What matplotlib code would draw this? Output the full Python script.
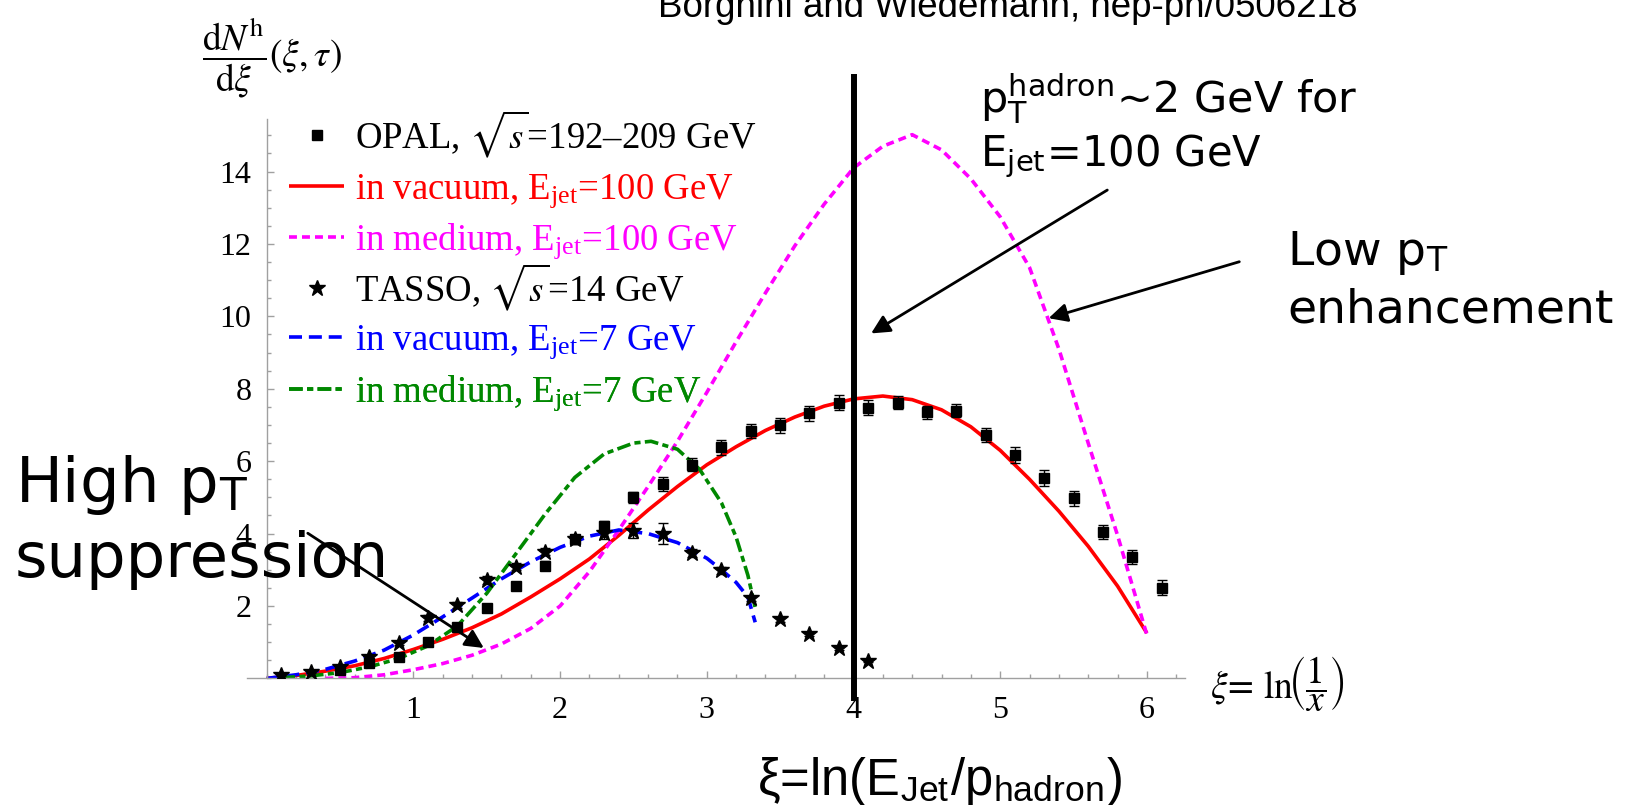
import matplotlib
matplotlib.use('Agg')
import matplotlib.pyplot as plt
from matplotlib.ticker import MultipleLocator

plt.rcParams['mathtext.fontset'] = 'stix'

W, H = 1629, 805

# OPAL, sqrt(s)=192-209 GeV
opal_xi = [0.5, 0.7, 0.9, 1.1, 1.3, 1.5, 1.7, 1.9, 2.1, 2.3, 2.5, 2.7, 2.9, 3.1, 3.3,
           3.5, 3.7, 3.9, 4.1, 4.3, 4.5, 4.7, 4.9, 5.1, 5.3, 5.5, 5.7, 5.9, 6.1]
opal_val = [0.23, 0.42, 0.60, 1.01, 1.41, 1.94, 2.56, 3.11, 3.84, 4.21, 5.00, 5.37, 5.90, 6.38, 6.83,
            6.99, 7.32, 7.62, 7.48, 7.62, 7.35, 7.39, 6.72, 6.16, 5.53, 4.97, 4.04, 3.35, 2.51]
opal_err = [0.05, 0.05, 0.06, 0.08, 0.10, 0.10, 0.10, 0.12, 0.12, 0.15, 0.15, 0.18, 0.18, 0.20, 0.20,
            0.20, 0.20, 0.20, 0.20, 0.18, 0.18, 0.18, 0.20, 0.22, 0.22, 0.22, 0.20, 0.20, 0.20]

# TASSO, sqrt(s)=14 GeV
tasso_xi = [0.1, 0.3, 0.5, 0.7, 0.9, 1.1, 1.3, 1.5, 1.7, 1.9, 2.1, 2.3, 2.5, 2.7, 2.9,
            3.1, 3.3, 3.5, 3.7, 3.9, 4.1]
tasso_val = [0.09, 0.19, 0.32, 0.60, 0.97, 1.66, 2.03, 2.72, 3.09, 3.50, 3.84, 4.01, 4.08, 4.00, 3.46,
             2.99, 2.21, 1.63, 1.22, 0.83, 0.49]
tasso_err = [0.03, 0.03, 0.04, 0.05, 0.06, 0.08, 0.08, 0.10, 0.10, 0.10, 0.12, 0.15, 0.20, 0.30, 0.12,
             0.10, 0.08, 0.06, 0.05, 0.04, 0.03]

# in vacuum, E_jet = 100 GeV
vac100_xi = [0.0, 0.2, 0.4, 0.6, 0.8, 1.0, 1.2, 1.4, 1.6, 1.8, 2.0, 2.2, 2.4, 2.6, 2.8, 3.0,
             3.2, 3.4, 3.6, 3.8, 4.0, 4.2, 4.4, 4.6, 4.8, 5.0, 5.2, 5.4, 5.6, 5.8, 6.0]
vac100_val = [0.0, 0.08, 0.20, 0.35, 0.55, 0.80, 1.08, 1.40, 1.78, 2.25, 2.75, 3.30, 3.95, 4.65, 5.30, 5.90,
              6.40, 6.85, 7.22, 7.52, 7.72, 7.80, 7.70, 7.42, 6.95, 6.30, 5.50, 4.62, 3.65, 2.55, 1.25]

# in medium, E_jet = 100 GeV
med100_xi = [0.4, 0.6, 0.8, 1.0, 1.2, 1.4, 1.6, 1.8, 2.0, 2.2, 2.4, 2.6, 2.8, 3.0, 3.2,
             3.4, 3.6, 3.8, 4.0, 4.2, 4.4, 4.6, 4.8, 5.0, 5.2, 5.4, 5.6, 5.8, 6.0]
med100_val = [0.0, 0.02, 0.10, 0.24, 0.41, 0.64, 0.95, 1.38, 2.00, 2.95, 4.10, 5.30, 6.55, 7.90, 9.30,
              10.65, 11.95, 13.10, 14.10, 14.70, 15.02, 14.60, 13.80, 12.75, 11.35, 9.10, 6.50, 3.95, 1.20]

# in vacuum, E_jet = 7 GeV
vac7_xi = [0.0, 0.2, 0.4, 0.6, 0.8, 1.0, 1.2, 1.4, 1.6, 1.8, 2.0, 2.2, 2.4, 2.6, 2.8,
           3.0, 3.1, 3.2, 3.28, 3.33]
vac7_val = [0.0, 0.10, 0.25, 0.48, 0.78, 1.20, 1.70, 2.22, 2.75, 3.22, 3.62, 3.93, 4.10, 4.00, 3.75,
            3.32, 3.00, 2.65, 2.25, 1.55]

# in medium, E_jet = 7 GeV
med7_xi = [0.1, 0.3, 0.5, 0.7, 0.9, 1.1, 1.3, 1.5, 1.7, 1.9, 2.1, 2.3, 2.5, 2.62, 2.8,
           2.95, 3.1, 3.2, 3.28, 3.33]
med7_val = [0.02, 0.07, 0.16, 0.32, 0.55, 0.90, 1.45, 2.35, 3.45, 4.55, 5.55, 6.20, 6.50, 6.55, 6.33,
            5.78, 4.85, 3.90, 2.85, 1.95]

x_ticks = [1, 2, 3, 4, 5, 6]
y_ticks = [2, 4, 6, 8, 10, 12, 14]
xi_line = 4.0

legend_labels = [r'OPAL, $\sqrt{s}$=192–209 GeV',
                 r'in vacuum, E$_{\mathregular{jet}}$=100 GeV',
                 r'in medium, E$_{\mathregular{jet}}$=100 GeV',
                 r'TASSO, $\sqrt{s}$=14 GeV',
                 r'in vacuum, E$_{\mathregular{jet}}$=7 GeV',
                 r'in medium, E$_{\mathregular{jet}}$=7 GeV']
legend_colors = ['black', 'red', '#ff00ff', 'black', 'blue', '#008800']
legend_rows_px = [134, 192, 242, 287, 343, 394]   # row centres, pixels from top


def fx(px):
    return px / W


def fy(py):
    return 1 - py / H


fig = plt.figure(figsize=(W / 100, H / 100), dpi=100)
ax = fig.add_axes([fx(247), fy(678.4), (1185 - 247) / W, (678.4 - 119) / H])
ax.set_xlim(-0.1343, 6.2597)
ax.set_ylim(0, 15.453)

lw = 2.6
l_red, = ax.plot(vac100_xi, vac100_val, color='red', lw=lw, solid_capstyle='butt')
l_mag, = ax.plot(med100_xi, med100_val, color='#ff00ff', lw=lw, dashes=(2.2, 1.4))
l_blue, = ax.plot(vac7_xi, vac7_val, color='blue', lw=lw, dashes=(3.6, 1.9))
l_green, = ax.plot(med7_xi, med7_val, color='#008800', lw=lw, dashes=(3.8, 1.2, 1.7, 1.2))

ax.errorbar(opal_xi, opal_val, yerr=opal_err, fmt='none', ecolor='black', elinewidth=1, capsize=3.5)
ax.errorbar(tasso_xi, tasso_val, yerr=tasso_err, fmt='none', ecolor='black', elinewidth=1, capsize=3.5)
l_opal, = ax.plot(opal_xi, opal_val, 's', color='black', ms=7.5, ls='none', zorder=4)
l_tasso, = ax.plot(tasso_xi, tasso_val, '*', color='black', ms=12, ls='none', zorder=4)

ax.axvline(xi_line, ymin=-0.035, ymax=1.075, color='black', lw=4.3, clip_on=False, zorder=6)

# Mathematica-like axes
for s in ['top', 'right']:
    ax.spines[s].set_visible(False)
ax.spines['left'].set_position(('data', 0))
for s in ['left', 'bottom']:
    ax.spines[s].set_color('#a0a0a0')
    ax.spines[s].set_linewidth(1.0)
ax.set_xticks(x_ticks)
ax.set_yticks(y_ticks)
ax.xaxis.set_minor_locator(MultipleLocator(0.2))
ax.yaxis.set_minor_locator(MultipleLocator(0.5))
ax.tick_params(which='both', direction='in', color='#a0a0a0', width=1.0)
ax.tick_params(which='major', length=5)
ax.tick_params(which='minor', length=3)
ax.tick_params(axis='x', which='major', pad=13)
ax.tick_params(axis='y', which='major', pad=11)
for lab in ax.get_xticklabels() + ax.get_yticklabels():
    lab.set_fontfamily('Liberation Serif')
    lab.set_fontsize(23)

# legend: one row per entry so the rows sit evenly like in the original
handles = [l_opal, l_red, l_mag, l_tasso, l_blue, l_green]
for h, lab, c, ypx in zip(handles, legend_labels, legend_colors, legend_rows_px):
    leg = ax.legend([h], [lab], loc='center left',
                    bbox_to_anchor=(fx(289), fy(ypx)), bbox_transform=fig.transFigure,
                    frameon=False, prop={'family': 'Liberation Serif', 'size': 26.5},
                    handlelength=1.5, handletextpad=0.3,
                    borderpad=0, borderaxespad=0)
    leg.get_texts()[0].set_color(c)
    ax.add_artist(leg)

# axis labels
fig.text(fx(202), fy(58), r'$\dfrac{\mathrm{d}N^{\mathrm{h}}}{\mathrm{d}\xi}(\xi,\tau)$',
         fontsize=27, ha='left', va='center')
fig.text(fx(1210), fy(684), r'$\xi\!=\,\mathrm{ln}\!\left(\dfrac{1}{x}\right)$',
         fontsize=27, ha='left', va='center')

# slide annotations
fig.text(fx(658), fy(17), 'Borghini and Wiedemann, hep-ph/0506218',
         family='Liberation Sans', fontsize=26.5, ha='left', va='baseline')
fig.text(fx(15), fy(502), r'High p$_{\mathregular{T}}$', family='DejaVu Sans',
         fontsize=45, ha='left', va='baseline', zorder=10)
fig.text(fx(15), fy(577), 'suppression', family='DejaVu Sans',
         fontsize=45, ha='left', va='baseline', zorder=10)
fig.text(fx(980), fy(113), r'p$_{\mathregular{T}}^{\mathregular{hadron}}$~2 GeV for',
         family='DejaVu Sans', fontsize=31, ha='left', va='baseline')
fig.text(fx(980), fy(166), r'E$_{\mathregular{jet}}$=100 GeV',
         family='DejaVu Sans', fontsize=30, ha='left', va='baseline')
fig.text(fx(1287), fy(265), r'Low p$_{\mathregular{T}}$', family='DejaVu Sans',
         fontsize=34, ha='left', va='baseline')
fig.text(fx(1287), fy(322), 'enhancement', family='DejaVu Sans',
         fontsize=34, ha='left', va='baseline')
fig.text(fx(757), fy(795), r'ξ=ln(E$_{\mathregular{Jet}}$/p$_{\mathregular{hadron}}$)',
         family='Liberation Sans', fontsize=36.5, ha='left', va='baseline')

arrow = dict(arrowstyle='-|>', lw=2, color='black', mutation_scale=28, shrinkA=0, shrinkB=0)
ax.annotate('', xy=(1.48, 0.84), xytext=(0.28, 4.01), arrowprops=arrow, annotation_clip=False, zorder=11)
ax.annotate('', xy=(4.12, 9.53), xytext=(5.73, 13.49), arrowprops=arrow, annotation_clip=False)
ax.annotate('', xy=(5.33, 9.95), xytext=(6.63, 11.51), arrowprops=arrow, annotation_clip=False)

fig.savefig('out.png', dpi=100)
plt.close(fig)
